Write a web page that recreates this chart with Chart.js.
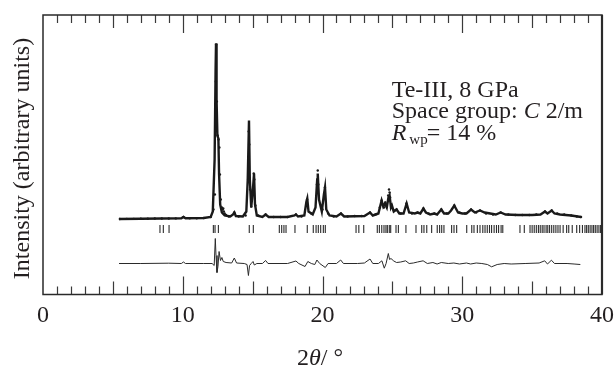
<!DOCTYPE html>
<html>
<head>
<meta charset="utf-8">
<script src="https://cdn.jsdelivr.net/npm/chart.js@4.4.0/dist/chart.umd.min.js"></script>
<style>
  html, body { margin: 0; padding: 0; background: #fff; }
</style>
</head>
<body>
<canvas id="myChart" width="616" height="367"></canvas>
<script>
const SERIF = '"Liberation Serif", "DejaVu Serif", serif';
const INK = '#231f20';

// x tick labels (2theta, degrees)
const xTickLabels = [0, 10, 20, 30, 40];

// calculated profile
const calcTwoTheta = [5.44, 7, 8.5, 9.9, 10.05, 10.2, 11.5, 12.0, 12.15, 12.28, 12.35, 12.38, 12.42, 12.48, 12.55, 12.6, 12.68, 12.8, 13.0, 13.4, 13.6, 13.69, 13.8, 14.3, 14.55, 14.65, 14.74, 14.8, 14.9, 15.02, 15.1, 15.17, 15.3, 15.7, 15.93, 16.15, 17.5, 18.0, 18.1, 18.25, 18.7, 18.85, 18.91, 19.0, 19.3, 19.5, 19.62, 19.66, 19.75, 19.95, 20.1, 20.18, 20.27, 20.5, 21.0, 21.32, 21.55, 23.0, 23.4, 23.6, 24.0, 24.23, 24.35, 24.47, 24.6, 24.72, 24.8, 24.9, 24.97, 25.1, 25.3, 25.5, 25.8, 26.02, 26.2, 26.6, 26.8, 27.0, 27.22, 27.4, 27.7, 28.0, 28.2, 28.5, 28.7, 29.0, 29.2, 29.43, 29.7, 30.0, 30.3, 30.63, 30.9, 31.27, 31.6, 32.0, 32.4, 32.75, 33.1, 34.0, 35.0, 35.6, 35.92, 36.1, 36.4, 36.6, 37.0, 37.8, 38.5];
const calcIntensity = [0.5, 0.8, 1, 1.2, 2.5, 1.2, 1.5, 2.5, 8, 60, 150, 176, 120, 84, 81, 45, 15, 7, 4, 3, 5, 7, 3.5, 3, 8, 40, 99, 40, 12, 30, 46, 15, 4, 2.5, 5, 2.5, 2.5, 4, 5, 3, 4, 18, 21, 8, 5, 12, 40, 46, 20, 8, 25, 32, 10, 4, 3, 6, 3, 3.5, 7, 4, 6, 19, 13, 16, 12, 22, 24, 12, 14, 8, 10, 6, 6, 16, 7, 6, 7, 6, 11, 7, 5, 6, 5, 10, 6, 6, 9, 14, 7, 6, 6, 10, 7, 9, 7, 6, 5, 7, 5, 4.5, 4.5, 5, 8, 6, 9, 6, 5, 4, 2.5];

// observed points
const obsTwoTheta = [5.5, 6.0, 6.5, 7.0, 7.5, 8.0, 8.5, 9.0, 9.5, 10.05, 10.5, 11.0, 11.5, 12.0, 12.2, 12.3, 12.34, 12.37, 12.39, 12.44, 12.5, 12.56, 12.62, 12.66, 12.72, 12.8, 12.86, 12.9, 12.94, 13.0, 13.1, 13.3, 13.69, 14.0, 14.5, 14.68, 14.72, 14.76, 14.82, 14.9, 15.03, 15.08, 15.12, 15.2, 15.4, 15.93, 16.5, 17.0, 17.5, 18.1, 18.5, 18.9, 19.2, 19.6, 19.66, 19.7, 20.0, 20.17, 20.4, 20.8, 21.32, 21.8, 22.3, 22.8, 23.4, 23.8, 24.1, 24.23, 24.4, 24.5, 24.7, 24.76, 24.8, 24.84, 24.95, 25.1, 25.3, 25.6, 26.0, 26.4, 26.8, 27.22, 27.6, 28.0, 28.5, 28.9, 29.43, 29.8, 30.2, 30.63, 31.0, 31.27, 31.7, 32.2, 32.75, 33.3, 33.8, 34.3, 34.8, 35.3, 35.92, 36.4, 36.8, 37.3, 37.8, 38.2, 38.5];
const obsIntensity = [0.5, 0.6, 0.6, 0.8, 0.8, 1, 1, 1, 1.1, 2.5, 1.2, 1.3, 1.5, 2.5, 10, 25, 93, 138, 175, 118, 84, 80, 72, 45, 20, 12, 10, 11, 8, 6, 4.5, 3, 7, 3, 4, 40, 88, 75, 30, 13, 28, 46, 40, 14, 4, 5, 2.5, 2.5, 2.5, 5, 3, 20, 6, 35, 49, 35, 10, 32, 6, 3, 6, 3, 3.5, 3.5, 7, 5, 12, 19, 12, 17, 24, 30, 27, 22, 14, 9, 10, 6, 16, 6, 7, 11, 6, 6, 10, 6, 14, 7, 6, 10, 7, 9, 6, 5, 7, 5, 4.5, 4.5, 4.5, 5, 8, 9, 6, 5, 4, 3, 2.5];

// difference (obs - calc)
const diffTwoTheta = [5.44, 7.0, 9.0, 9.9, 10.05, 10.2, 11.5, 12.1, 12.25, 12.33, 12.38, 12.45, 12.52, 12.6, 12.7, 12.8, 12.9, 13.1, 13.5, 13.69, 13.85, 14.4, 14.6, 14.7, 14.78, 14.9, 15.03, 15.12, 15.3, 15.7, 15.93, 16.1, 17.5, 18.1, 18.3, 18.75, 18.95, 19.2, 19.45, 19.6, 19.8, 20.2, 20.4, 21.0, 21.3, 21.5, 22.5, 23.0, 23.4, 23.6, 24.0, 24.25, 24.42, 24.55, 24.71, 24.8, 24.9, 25.1, 25.3, 25.6, 25.95, 26.2, 26.5, 26.8, 27.2, 27.5, 27.9, 28.2, 28.5, 29.0, 29.4, 29.8, 30.3, 30.6, 31.0, 31.4, 31.8, 32.1, 32.5, 33.0, 33.5, 34.5, 35.5, 35.9, 36.1, 36.38, 36.6, 37.5, 38.0, 38.45];
const diffValues = [0, 0, 0.3, 0, 1.5, 0, 0, 0, -2, 25, 8, -9, -3, 12, 3, 6, 2, 1, 0.5, 5.5, 0.5, 0, -1, -12, -2, 0, 2, -1.5, 0, 0, 3, 0, 0, 2.5, 0, -3, 2, 0, -1, 3.5, 0, -4, 0, 0, 3.5, 0, 0, 0.5, 4.5, 0, 0, 2.7, -4.7, 0, 10, 4, 5, 2.5, 1, 1.5, 2.7, 0, 0.5, 1.5, 2.7, 0, 1, -0.5, 1, 0, 0.5, -0.5, 0.5, -0.5, 0.5, 0, -1, -3.3, -1, 0, -0.5, 0, 0.5, 2.7, -0.5, 3.3, 0, 0, -0.5, -1];

// reflection positions (C 2/m)
const reflections = [8.37, 8.61, 9.02, 12.19, 12.31, 12.55, 14.76, 15.05, 16.91, 17.08, 17.24, 17.39, 18.03, 18.91, 19.34, 19.54, 19.7, 19.87, 20.06, 20.2, 22.4, 22.6, 22.95, 23.92, 24.07, 24.24, 24.4, 24.54, 24.64, 24.78, 24.88, 25.26, 25.43, 25.97, 26.69, 27.1, 27.26, 27.46, 27.81, 28.21, 28.38, 28.53, 28.69, 29.24, 29.41, 29.6, 30.32, 30.68, 30.84, 31.08, 31.27, 31.47, 31.63, 31.79, 31.95, 32.1, 32.28, 32.45, 32.6, 32.78, 32.9, 34.13, 34.44, 34.85, 35.0, 35.15, 35.3, 35.45, 35.58, 35.72, 35.85, 36.0, 36.12, 36.25, 36.4, 36.55, 36.7, 36.85, 37.0, 37.22, 37.47, 37.62, 37.87, 38.19, 38.4, 38.6, 38.78, 38.9, 39.02, 39.15, 39.28, 39.4, 39.52, 39.65, 39.78, 39.9];

const DIFF_OFFSET = -44;
const REFL_LEVEL = -9.5;

const zip = (xs, ys, off = 0) => xs.map((x, i) => ({ x: x, y: ys[i] + off }));

const framePlugin = {
  id: 'frame_and_text',
  afterDatasetsDraw: (chart) => {
    const { ctx, chartArea } = chart;
    const xs = chart.scales.x;
    const { left, right, top, bottom } = chartArea;
    ctx.save();
    // minor / medium / major ticks on top and bottom
    ctx.strokeStyle = '#3a3a3a';
    ctx.lineWidth = 1.2;
    for (let v = 1; v < 40; v++) {
      const len = v % 10 === 0 ? 18 : (v % 5 === 0 ? 13 : 8);
      const px = Math.round(xs.getPixelForValue(v)) + 0.5;
      ctx.beginPath();
      ctx.moveTo(px, bottom);
      ctx.lineTo(px, bottom - len);
      ctx.moveTo(px, top);
      ctx.lineTo(px, top + len);
      ctx.stroke();
    }
    // frame
    ctx.strokeStyle = '#2a2a2a';
    ctx.lineWidth = 1.5;
    ctx.strokeRect(left, top, right - left, bottom - top);
    ctx.lineWidth = 2.2;
    ctx.beginPath();
    ctx.moveTo(right, top);
    ctx.lineTo(right, bottom);
    ctx.stroke();

    ctx.fillStyle = INK;
    ctx.textBaseline = 'alphabetic';
    ctx.textAlign = 'left';
    let x = 0;
    const seg = (t, font, y) => { ctx.font = font; ctx.fillText(t, x, y); x += ctx.measureText(t).width; };

    // annotation
    ctx.font = '24px ' + SERIF;
    ctx.fillText('Te-III, 8 GPa', 391.7, 96.7);
    x = 391.7;
    seg('Space group: ', '24px ' + SERIF, 118);
    seg('C', 'italic 24px ' + SERIF, 118);
    seg(' 2/m', '24px ' + SERIF, 118);
    x = 391.7;
    seg('R', 'italic 24px ' + SERIF, 139.5);
    x += 3;
    seg('wp', '15px ' + SERIF, 144);
    x = 426.7;
    seg('= 14 %', '24px ' + SERIF, 139.5);

    // x title
    x = 297;
    seg('2', '24px ' + SERIF, 364.5);
    seg('\u03b8', 'italic 24px ' + SERIF, 364.5);
    seg('/ \u00b0', '24px ' + SERIF, 364.5);

    // y title
    ctx.translate(29, 158.5);
    ctx.rotate(-Math.PI / 2);
    ctx.textAlign = 'center';
    ctx.font = '24px ' + SERIF;
    ctx.fillText('Intensity (arbitrary units)', 0, 0);
    ctx.restore();
  }
};

new Chart(document.getElementById('myChart').getContext('2d'), {
  type: 'scatter',
  data: {
    datasets: [
      {
        label: 'calc',
        data: zip(calcTwoTheta, calcIntensity),
        showLine: true,
        borderColor: '#1a1a1a',
        borderWidth: 2.4,
        pointRadius: 0,
        tension: 0,
        order: 2
      },
      {
        label: 'obs',
        data: zip(obsTwoTheta, obsIntensity),
        showLine: false,
        backgroundColor: '#1a1a1a',
        borderColor: '#1a1a1a',
        borderWidth: 0,
        pointRadius: 1.2,
        order: 1
      },
      {
        label: 'reflections',
        data: reflections.map(r => ({ x: r, y: REFL_LEVEL })),
        showLine: false,
        pointStyle: 'line',
        rotation: 90,
        pointRadius: 4,
        borderColor: '#2a2a2a',
        borderWidth: 1.1,
        order: 3
      },
      {
        label: 'difference',
        data: zip(diffTwoTheta, diffValues, DIFF_OFFSET),
        showLine: true,
        borderColor: '#2a2a2a',
        borderWidth: 1,
        pointRadius: 0,
        tension: 0,
        order: 4
      }
    ]
  },
  options: {
    responsive: false,
    devicePixelRatio: 1,
    animation: false,
    layout: { padding: { left: 43, right: 14, top: 15, bottom: 0 } },
    plugins: { legend: { display: false }, tooltip: { enabled: false } },
    scales: {
      x: {
        type: 'linear',
        min: 0,
        max: 40,
        afterFit: (s) => { s.height = 72.5; s.paddingLeft = 0; s.paddingRight = 0; },
        afterBuildTicks: (s) => { s.ticks = xTickLabels.map(v => ({ value: v })); },
        grid: { display: false, drawTicks: false },
        border: { display: false },
        ticks: { padding: 7, color: INK, maxRotation: 0, autoSkip: false, font: { family: SERIF, size: 24 } }
      },
      y: { display: false, min: -75, max: 204.5 }
    }
  },
  plugins: [framePlugin]
});
</script>
</body>
</html>
